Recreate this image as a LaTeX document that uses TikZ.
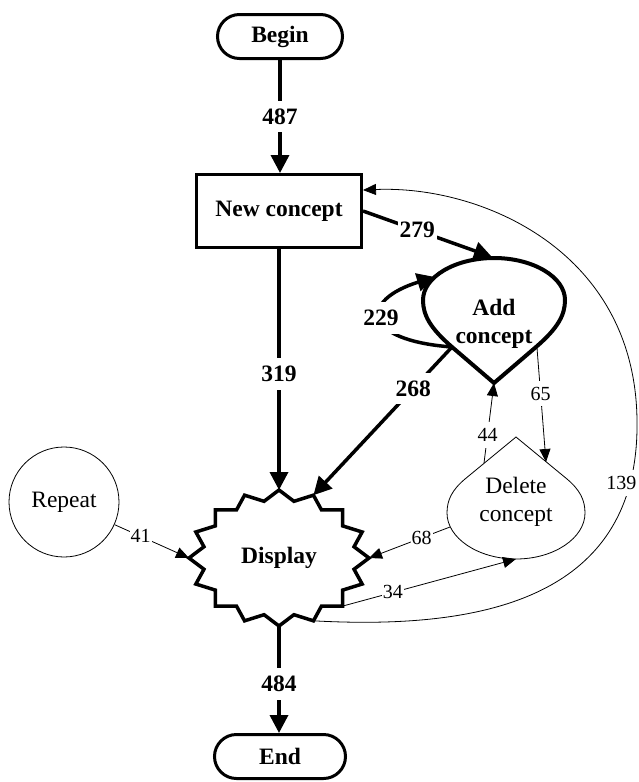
\documentclass[tikz,border=0pt]{standalone}
\usepackage{fontspec}
\setmainfont{Liberation Serif}
\usetikzlibrary{arrows.meta}
\begin{document}
\begin{tikzpicture}[x=1pt,y=-1pt,
  big/.style={font=\fontsize{23.5}{28}\selectfont\bfseries},
  reg/.style={font=\fontsize{23.5}{28}\selectfont},
  bnum/.style={font=\fontsize{23.5}{28}\selectfont\bfseries, fill=white, inner xsep=2pt, inner ysep=8pt},
  snum/.style={font=\fontsize{20}{24}\selectfont, fill=white, inner xsep=1pt, inner ysep=6pt},
  barrow/.style={line width=3.5pt, -{Triangle[length=18pt,width=18pt]}},
  tarrow/.style={line width=0.8pt, -{Triangle[length=13pt,width=11pt]}},
  term/.style={draw, line width=3pt, rounded corners=22pt, minimum height=44pt, big},
]
\useasboundingbox (0,0) rectangle (638,782);
% nodes
\node[term, minimum width=125pt] (begin) at (280,36.5) {Begin};
\node[draw, line width=3pt, minimum width=165pt, minimum height=73pt, big] (new) at (279,211) {New concept};
\node[term, minimum width=131pt] (end) at (280,756.5) {End};
\node[draw, circle, line width=0.8pt, minimum size=110pt, reg] (rep) at (64,502) {Repeat};
% Display star
\draw[line width=3.5pt, line join=miter] (369,558) \foreach \k in {1,...,31}{ -- ({279+90*(1-0.15*mod(\k,2))*cos(\k*11.25)}, {558+68*(1-0.15*mod(\k,2))*sin(\k*11.25)}) } -- cycle;
\node[big] (disp) at (279,558) {Display};
\coordinate (dT) at (279,490);
\coordinate (dB) at (279,626);
\coordinate (dL) at (189,558);
\coordinate (dR) at (369,558);
\coordinate (dTR) at (313.4,495.2);
\coordinate (dBR) at (342.6,606.1);
\coordinate (dBRb) at (313.4,620.8);
% Add concept
\draw[line width=4pt, line join=miter] (494,383) -- (452,347) .. controls (430,328) and (423,315) .. (423,300) .. controls (423,277) and (455,258) .. (494,258) .. controls (533,258) and (565,277) .. (565,300) .. controls (565,315) and (558,328) .. (536,347) -- cycle;
\node[big, align=center] (add) at (494,324) {Add\\concept};
\coordinate (addB) at (494,383);
\coordinate (addT) at (492,257);
\coordinate (addUL) at (435,277);
\coordinate (addLL) at (452,347);
\coordinate (addR) at (537,348);
% Delete concept
\draw[line width=0.8pt] (516,437) -- (465,479) .. controls (452,490) and (447,500) .. (447,513) .. controls (447,538) and (478,559) .. (516,559) .. controls (554,559) and (585,538) .. (585,513) .. controls (585,500) and (580,490) .. (567,479) -- cycle;
\node[reg, align=center] (del) at (516,502) {Delete\\concept};
\coordinate (delUL) at (484,463);
\coordinate (delUR) at (546,462);
\coordinate (delL) at (450,527);
\coordinate (delB) at (516,559);
% connectors
\draw[barrow] (begin.south) -- node[bnum]{487} (begin.south |- new.north);
\draw[barrow] (new.south) -- node[bnum, pos=0.52]{319} (dT);
\draw[barrow] (dB) -- node[bnum, pos=0.54]{484} (dB |- end.north);
\draw[barrow] (new.east) -- node[bnum, pos=0.42]{279} (addT);
\draw[barrow] (addLL) -- node[bnum, pos=0.28]{268} (dTR);
\draw[barrow] (addLL) .. controls (360,340) and (360,300) .. (addUL) node[bnum, pos=0.5]{229};
\draw[tarrow] (rep) -- node[snum, pos=0.35]{41} (dL);
\draw[tarrow] (delL) -- node[snum, pos=0.35]{68} (dR);
\draw[tarrow] (dBR) -- node[snum, pos=0.29]{34} (delB);
\draw[tarrow] (delUL) -- node[snum, pos=0.35]{44} (addB);
\draw[tarrow] (addR) -- node[snum, pos=0.4]{65} (delUR);
\draw[tarrow] (dBRb) .. controls (480,630) and (640,600) .. (637,420) node[snum, pos=0.87, xshift=-9pt]{139} .. controls (635,250) and (480,185) .. (new.14);
\end{tikzpicture}
\end{document}
